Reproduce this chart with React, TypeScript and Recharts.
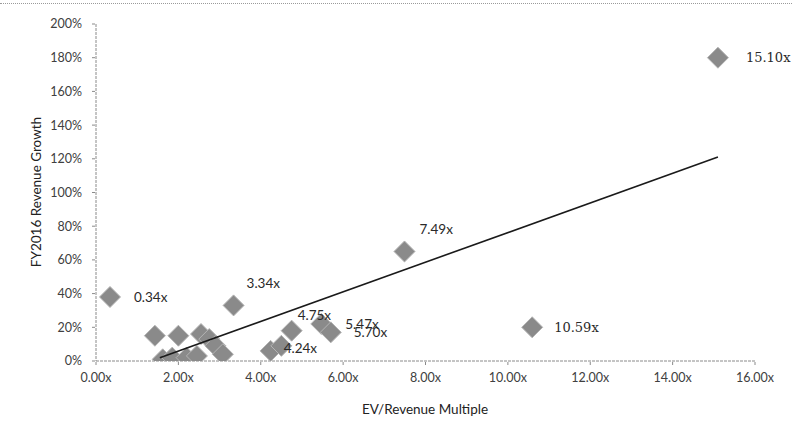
import { Label, LabelList, Scatter, ScatterChart, XAxis, YAxis } from 'recharts'

// EV/Revenue multiple (x) vs FY2016 revenue growth in % (y)
const multiples = [0.34, 1.43, 2.0, 2.55, 2.75, 1.62, 1.85, 2.2, 2.45, 2.9, 3.08, 3.34, 4.24, 4.5, 4.75, 5.47, 5.7, 7.49, 10.59, 15.1]
const growth = [38, 15, 15, 16, 13, 1, 2, 2, 3, 9, 4, 33, 6, 9, 18, 22, 17, 65, 20, 180]

// points that carry a data label in the original
const labelled = ['0.34x', '3.34x', '4.24x', '4.75x', '5.47x', '5.70x', '7.49x', '10.59x', '15.10x']

// linear trendline as drawn (start / end)
const trendX = [1.55, 15.1]
const trendY = [2, 121]

const xTicks = [0, 2, 4, 6, 8, 10, 12, 14, 16]
const yTicks = [0, 20, 40, 60, 80, 100, 120, 140, 160, 180, 200]

const points = multiples.map((x, i) => ({ x, y: growth[i], name: x.toFixed(2) + 'x' }))
const labelPoints = points.filter((p) => labelled.includes(p.name))
const trend = trendX.map((x, i) => ({ x, y: trendY[i] }))

// label placement relative to the marker, in px
const offsets: Record<string, [number, number]> = {
  '0.34x': [24, 0],
  '3.34x': [13, -22],
  '4.24x': [13, -3],
  '4.75x': [6, -16],
  '5.47x': [24, 0],
  '5.70x': [23, 0],
  '7.49x': [15, -22],
  '10.59x': [22, 0],
  '15.10x': [28, 0],
}
const serifLabels = ['10.59x', '15.10x']

const font = 'Lato, "Open Sans", sans-serif'

function Diamond(props: any) {
  const { cx, cy } = props
  const r = 10.5
  return (
    <polygon
      points={`${cx},${cy - r} ${cx + r},${cy} ${cx},${cy + r} ${cx - r},${cy}`}
      fill="#8a8a8a"
      stroke="#b4b4b4"
      strokeWidth={1}
    />
  )
}

function PointLabel(props: any) {
  const { x, y, width, height, value } = props
  const cx = x + width / 2
  const cy = y + height / 2
  const [dx, dy] = offsets[value] ?? [14, 0]
  const serif = serifLabels.includes(value)
  return (
    <text
      x={cx + dx}
      y={cy + dy}
      dominantBaseline="central"
      fontSize={serif ? 13 : 13.5}
      fontFamily={serif ? '"DejaVu Serif", serif' : font}
      fill="#2a2a2a"
    >
      {value}
    </text>
  )
}

function AxisTitle(props: any) {
  const { tx, ty, vertical, text } = props
  return (
    <text
      x={tx}
      y={ty}
      transform={vertical ? `rotate(-90 ${tx} ${ty})` : undefined}
      textAnchor="middle"
      dominantBaseline="central"
      fontSize={13.5}
      fontFamily={font}
      fill="#222"
    >
      {text}
    </text>
  )
}

export default function App() {
  return (
    <div style={{ position: 'absolute', left: 0, top: 0, width: 792, height: 421, background: '#fff' }}>
      <div style={{ position: 'absolute', left: 0, right: 0, top: 3, borderTop: '1px dotted #9a9a9a' }} />
      <ScatterChart width={792} height={421} margin={{ top: 24, right: 37, bottom: 0, left: 0 }}>
        <XAxis
          type="number"
          dataKey="x"
          domain={[0, 16]}
          ticks={xTicks}
          tickFormatter={(v) => Number(v).toFixed(2) + 'x'}
          height={60}
          tickSize={4}
          tickMargin={8}
          stroke="#8a8a8a"
          strokeDasharray="3 1"
          tick={{ fontSize: 12.5, fontFamily: font, fill: '#404040' }}
          allowDataOverflow
        >
          <Label content={<AxisTitle tx={425} ty={409} text="EV/Revenue Multiple" />} />
        </XAxis>
        <YAxis
          type="number"
          dataKey="y"
          domain={[0, 200]}
          ticks={yTicks}
          tickFormatter={(v) => v + '%'}
          width={96}
          tickSize={4}
          tickMargin={10}
          stroke="#8a8a8a"
          strokeDasharray="3 1"
          tick={{ fontSize: 12.5, fontFamily: font, fill: '#404040' }}
          allowDataOverflow
        >
          <Label content={<AxisTitle tx={36} ty={192} vertical text="FY2016 Revenue Growth" />} />
        </YAxis>
        <Scatter data={labelPoints} shape={() => <g />} isAnimationActive={false}>
          <LabelList dataKey="name" content={<PointLabel />} />
        </Scatter>
        <Scatter data={points} shape={<Diamond />} isAnimationActive={false} />
        <Scatter
          data={trend}
          line={{ stroke: '#1a1a1a', strokeWidth: 1.6 }}
          shape={() => <g />}
          isAnimationActive={false}
        />
      </ScatterChart>
    </div>
  )
}
